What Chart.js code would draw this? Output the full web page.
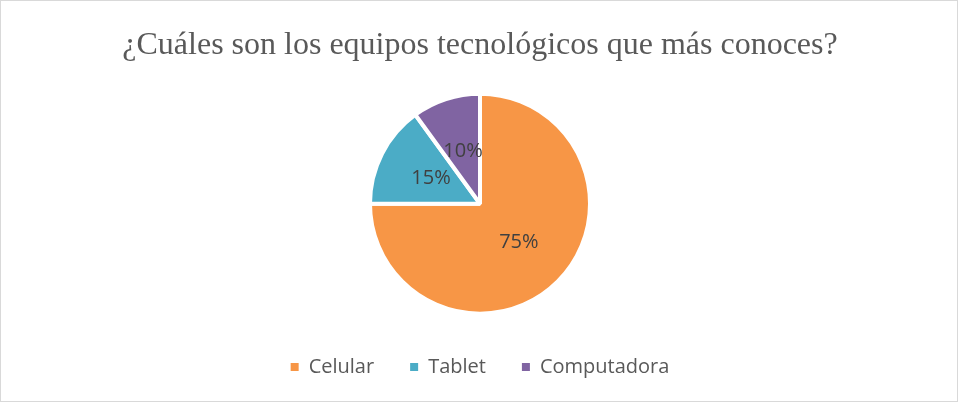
<!DOCTYPE html>
<html><head><meta charset="utf-8">
<script src="https://cdn.jsdelivr.net/npm/chart.js@4.4.0/dist/chart.umd.min.js"></script>
<style>html,body{margin:0;padding:0;background:#fff}#wrap{width:958px;height:402px}</style>
</head><body><div id="wrap"><canvas id="c" width="958" height="402"></canvas></div>
<script>
const title = '¿Cuáles son los equipos tecnológicos que más conoces?';
const categories = ['Celular', 'Tablet', 'Computadora'];
const values = [75, 15, 10];
const valueLabels = ['75%', '15%', '10%'];
const colors = ['#F79646', '#4BACC6', '#8064A2'];

const frame = {
  id: 'frame',
  beforeDraw(chart) {
    const ctx = chart.ctx;
    ctx.save();
    ctx.fillStyle = '#fff';
    ctx.fillRect(0, 0, chart.width, chart.height);
    ctx.strokeStyle = '#D9D9D9';
    ctx.lineWidth = 1;
    ctx.strokeRect(0.5, 0.5, chart.width - 1, chart.height - 1);
    ctx.restore();
  }
};
const dataLabels = {
  id: 'dataLabels',
  afterDatasetsDraw(chart) {
    const ctx = chart.ctx;
    const meta = chart.getDatasetMeta(0);
    ctx.save();
    ctx.font = '20px "Open Sans"';
    ctx.fillStyle = '#404040';
    ctx.textAlign = 'center';
    ctx.textBaseline = 'middle';
    meta.data.forEach((arc, i) => {
      const p = arc.tooltipPosition();
      ctx.fillText(valueLabels[i], p.x, p.y);
    });
    ctx.restore();
  }
};

new Chart(document.getElementById('c'), {
  type: 'pie',
  data: {
    labels: categories,
    datasets: [{
      data: values,
      backgroundColor: colors,
      borderColor: '#fff',
      borderWidth: 4,
      radius: 110
    }]
  },
  options: {
    responsive: false,
    animation: false,
    layout: { padding: { top: 0, bottom: 15, left: 2, right: 0 } },
    plugins: {
      title: {
        display: true,
        text: title,
        color: '#595959',
        font: { family: '"Liberation Serif", "Times New Roman", serif', size: 32, weight: 'normal' },
        padding: { top: 26, bottom: 22 }
      },
      legend: {
        position: 'bottom',
        labels: {
          color: '#595959',
          font: { family: '"Open Sans", sans-serif', size: 20 },
          boxWidth: 8,
          boxHeight: 8,
          padding: 36,
          generateLabels(chart) {
            const items = Chart.overrides.pie.plugins.legend.labels.generateLabels(chart);
            return items.map(it => Object.assign(it, { lineWidth: 0, strokeStyle: 'rgba(0,0,0,0)' }));
          }
        }
      },
      tooltip: { enabled: false }
    }
  },
  plugins: [frame, dataLabels]
});
</script>
</body></html>
